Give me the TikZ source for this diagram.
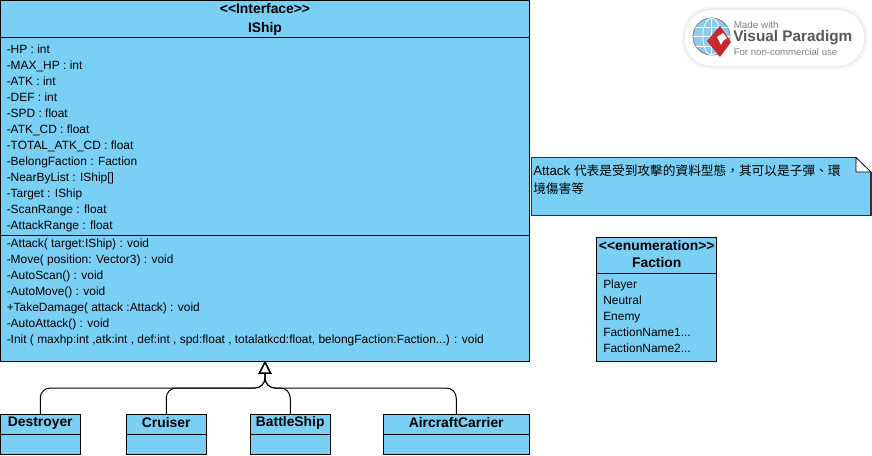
\documentclass[tikz,border=0pt]{standalone}
\usepackage{fontspec}
\setmainfont{Liberation Sans}
\newfontfamily\cjkfont{Noto Sans CJK TC}
\usetikzlibrary{arrows.meta,calc}
\definecolor{umlblue}{HTML}{7ACFF5}
\definecolor{vpgray}{HTML}{55585C}
\definecolor{vpred}{HTML}{C8282D}
\definecolor{vpblue}{HTML}{8CCBEC}
\newcommand{\stopen}{<\kern0pt<}
\newcommand{\stclose}{>\kern0pt>}
\tikzset{
  x=0.75pt,y=-0.75pt,
  umlbox/.style={draw=black,fill=umlblue,line width=0.75pt,outer sep=0pt,inner sep=0pt},
  title/.style={font=\bfseries\fontsize{10.4pt}{14pt}\selectfont,align=center,inner sep=0pt},
  rows/.style={font=\fontsize{8.95pt}{12pt}\selectfont,align=left,anchor=north west,inner sep=0pt,text depth=0pt},
  gen/.style={draw=black,line width=0.75pt,rounded corners=7.5pt,-{Triangle[open,fill=white,length=9.6pt,width=9.6pt,line width=1pt]}},
  divider/.style={draw=black,line width=0.75pt},
}
\begin{document}
\begin{tikzpicture}
\path[use as bounding box,fill=white] (0,0) rectangle (872,455);

% main class
\node[umlbox,minimum width=529pt*0.75,minimum height=360.5pt*0.75] (main) at (265,180.75) {};
\draw[divider] (main.west |- 0,37.5) -- (main.east |- 0,37.5);
\draw[divider] (main.west |- 0,235) -- (main.east |- 0,235);
\node[title] (maintitle) at (265,19.5) {\stopen Interface\stclose\\IShip};
\node[rows] (attrs) at (6.5,44.5) {-HP : int\\-MAX\_HP : int\\-ATK : int\\-DEF : int\\-SPD : float\\-ATK\_CD : float\\-TOTAL\_ATK\_CD : float\\-BelongFaction : Faction\\-NearByList : IShip[]\\-Target : IShip\\-ScanRange : float\\-AttackRange : float};
\node[rows] (methods) at (6.5,239) {-Attack( target:IShip) : void\\-Move( position: Vector3) : void\\-AutoScan() : void\\-AutoMove() : void\\+TakeDamage( attack :Attack) : void\\-AutoAttack() : void\\-Init ( maxhp:int ,atk:int , def:int , spd:float , totalatkcd:float, belongFaction:Faction...) : void};

% subclasses
\node[umlbox,minimum width=79.5pt*0.75,minimum height=40.5pt*0.75] (destroyer) at (40.25,434.25) {};
\node[umlbox,minimum width=79.5pt*0.75,minimum height=40.5pt*0.75] (cruiser) at (166.25,434.25) {};
\node[umlbox,minimum width=79.5pt*0.75,minimum height=40.5pt*0.75] (battle) at (290.25,434.25) {};
\node[umlbox,minimum width=146.5pt*0.75,minimum height=40.5pt*0.75] (carrier) at (456.25,434.25) {};
\foreach \n in {destroyer,cruiser,battle,carrier}
  \draw[divider] (\n.west |- 0,434.5) -- (\n.east |- 0,434.5);
\node[title] (destroyerlabel) at (40.25,423) {Destroyer};
\node[title] (cruiserlabel) at (166.25,423) {Cruiser};
\node[title] (battlelabel) at (290.25,423) {BattleShip};
\node[title] (carrierlabel) at (456.25,423) {AircraftCarrier};

% generalisation
\coordinate (junction) at (main.south |- 0,388);
\draw[gen] (destroyer.north) |- (junction) -- (main.south);
\draw[gen] (cruiser.north) |- (junction) -- (main.south);
\draw[gen] (battle.north) |- (junction) -- (main.south);
\draw[gen] (carrier.north) |- (junction) -- (main.south);

% note
\path[fill=umlblue] (531.5,157.5) -- (856,157.5) -- (871,172) -- (871,215.5) -- (531.5,215.5) -- cycle;
\draw[draw=black!80,line width=1.1pt] (871,172) -- (871,215.5) -- (531.5,215.5) -- (531.5,157.5) -- (856,157.5);
\path[fill=white,draw=black,line width=0.6pt] (856,157.5) -- (871,172) -- (856,172) -- cycle;
\node[font=\fontsize{10pt}{13.5pt}\selectfont,anchor=north west,inner sep=0pt,align=left] (note) at (533,165)
  {Attack {\fontsize{9.52pt}{13.5pt}\selectfont\cjkfont 代表是受到攻擊的資料型態，其可以是子彈、環}\\{\fontsize{9.52pt}{13.5pt}\selectfont\cjkfont 境傷害等}};

% enumeration
\node[umlbox,minimum width=120pt*0.75,minimum height=124pt*0.75] (enum) at (656.75,299) {};
\draw[divider] (enum.west |- 0,273.5) -- (enum.east |- 0,273.5);
\node[title,font=\bfseries\fontsize{10.4pt}{13pt}\selectfont] (enumtitle) at (656.75,254) {\stopen enumeration\stclose\\Faction};
\node[rows] (items) at (603,279.5) {Player\\Neutral\\Enemy\\FactionName1...\\FactionName2...};

% watermark
\foreach \g/\o in {4/0.012,3/0.018,2/0.025,1/0.03}
  \fill[black,opacity=\o,rounded corners=21pt] (685-\g,10-\g) rectangle (864+\g,66+\g);
\fill[white,rounded corners=20pt] (685,10) rectangle (864,66);
\fill[vpblue] (711.5,36.5) circle (13.9pt);
\draw[black!50,line width=0.6pt] (711.5,36.5) circle (13.9pt);
\begin{scope}
  \clip (711.5,36.5) circle (13.9pt);
  \foreach \yy in {27,36.5,46} \draw[white,line width=0.6pt] (690,\yy) -- (735,\yy);
  \draw[white,line width=0.6pt] (711.5,15) -- (711.5,58);
  \draw[white,line width=0.6pt] (711.5,36.5) ellipse (6.5pt and 13.9pt);
\end{scope}
\fill[vpred] (720,26) -- (731,42) -- (720,57) -- (707,41) -- cycle;
\fill[white] (717,37) -- (723,33) -- (727,38) -- (723,41) -- (721,45) -- cycle;
\node[font=\fontsize{7.4pt}{8pt}\selectfont,text=black!50,anchor=west,inner sep=0pt] (vpmade) at (733.5,24.5) {Made with};
\node[font=\bfseries\fontsize{11.5pt}{12pt}\selectfont,text=vpgray,anchor=west,inner sep=0pt] (vpname) at (733,38) {Visual Paradigm};
\node[font=\fontsize{7.2pt}{8pt}\selectfont,text=black!50,anchor=west,inner sep=0pt] (vpuse) at (733.5,52) {For non-commercial use};
\end{tikzpicture}
\end{document}
